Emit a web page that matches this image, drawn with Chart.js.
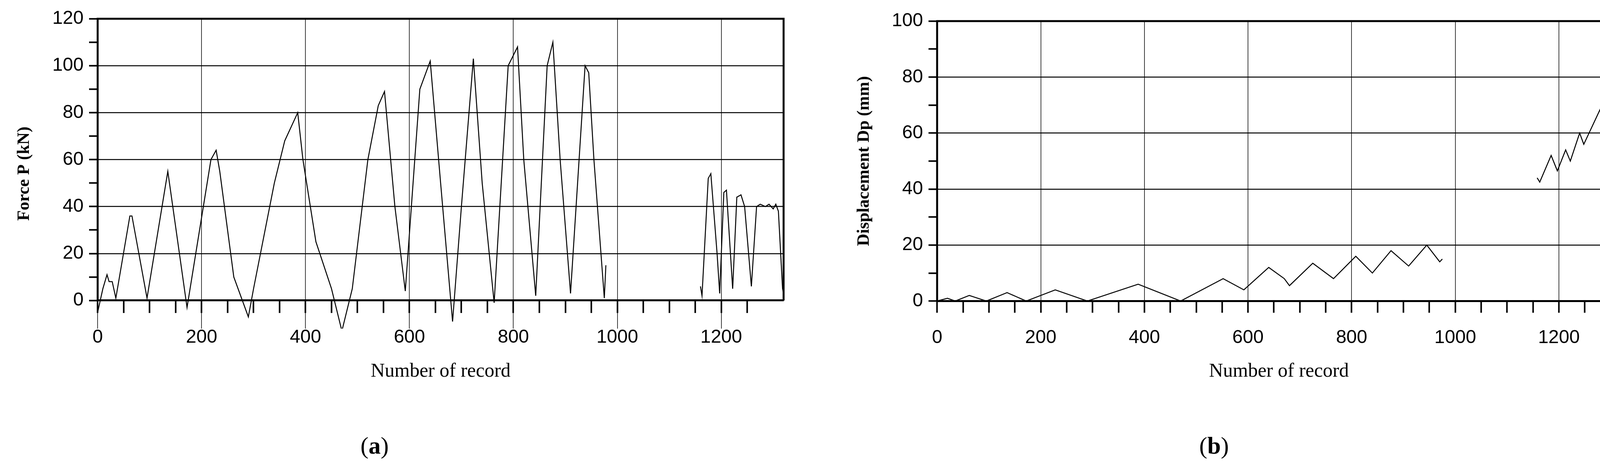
<!DOCTYPE html>
<html>
<head>
<meta charset="utf-8">
<script src="https://cdn.jsdelivr.net/npm/chart.js@4.4.0/dist/chart.umd.min.js"></script>
<style>
  body { margin: 0; background: #fff; width: 4211px; height: 1190px; position: relative; overflow: hidden; }
  canvas { position: absolute; top: 0; }
  .cap { position: absolute; top: 1105px; font-family: "Liberation Serif", serif; font-size: 62px; transform: translateX(-50%); }
  .xt { position: absolute; top: 918px; font-family: "Liberation Serif", serif; font-size: 50px; transform: translateX(-50%); white-space: nowrap; }
</style>
</head>
<body>
<canvas id="force" width="2100" height="1030" style="left:0;width:2100px;height:1030px"></canvas>
<canvas id="disp" width="2061" height="1030" style="left:2150px;width:2061px;height:1030px"></canvas>
<div class="xt" style="left:1128px">Number of record</div>
<div class="xt" style="left:3274px">Number of record</div>
<div class="cap" style="left:959px">(<b>a</b>)</div>
<div class="cap" style="left:3108px">(<b>b</b>)</div>
<script>
// force P, record number vs kN (null = gap in the record)
const forceRecord = [0, 10, 18, 22, 28, 35, 62, 66, 95, 135, 172, 218, 228, 235, 262, 290, 300, 340, 360, 385, 395, 420, 450, 470, 490, 520, 540, 552, 572, 592, 620, 640, 660, 683, 700, 723, 740, 763, 790, 808, 820, 843, 865, 876, 890, 910, 938, 945, 955, 975, 978, 1000, 1160, 1163, 1175, 1180, 1192, 1197, 1205, 1210, 1222, 1230, 1238, 1245, 1258, 1268, 1275, 1285, 1292, 1300, 1305, 1310, 1318, 1321];
const forceValue  = [-5, 5, 11, 8, 8, 1, 36, 36, 1, 55, -3, 60, 64, 55, 10, -7, 5, 50, 68, 80, 60, 25, 5, -13, 5, 60, 83, 89, 40, 4, 90, 102, 50, -9, 40, 103, 50, -1, 100, 108, 60, 2, 100, 110, 60, 3, 100, 97, 60, 1, 15, null, 6, 2, 52, 54, 20, 3, 46, 47, 5, 44, 45, 40, 6, 40, 41, 40, 41, 39, 41, 38, 5, 2];
// displacement Dp, record number vs mm
const dispRecord = [0, 20, 35, 62, 95, 135, 172, 228, 290, 388, 470, 552, 592, 640, 670, 680, 725, 765, 808, 840, 876, 910, 945, 970, 975, 1000, 1158, 1163, 1185, 1197, 1213, 1222, 1240, 1248, 1310, 1320];
const dispValue  = [0, 1, 0, 2, 0, 3, 0, 4, 0, 6, 0, 8, 4, 12, 8, 5.5, 13.5, 8, 16, 10, 18, 12.5, 20, 14, 15, null, 44, 42.5, 52, 46.5, 54, 50, 60, 56, 80.5, 76];

const tickFont = { family: '"Liberation Sans Narrow", "Liberation Sans", sans-serif', size: 48 };

const frame = {
  id: 'frame',
  afterDraw(chart) {
    const { ctx, chartArea: a, scales } = chart;
    const y0 = scales.y.getPixelForValue(0);
    ctx.save();
    ctx.strokeStyle = '#000';
    ctx.lineWidth = 5;
    ctx.beginPath();
    ctx.moveTo(a.left, y0); ctx.lineTo(a.left, a.top); ctx.lineTo(a.right, a.top); ctx.lineTo(a.right, y0);
    ctx.stroke();
    ctx.restore();
  }
};

function makeChart(id, xs, ys, yMin, yMax, yTitle, pad, yWidth, xPos) {
  new Chart(document.getElementById(id), {
    type: 'line',
    data: { datasets: [{ data: xs.map((x, i) => ({ x, y: ys[i] })), borderColor: '#000', borderWidth: 2.5, pointRadius: 0, tension: 0, spanGaps: false }] },
    options: {
      responsive: false, devicePixelRatio: 1, animation: false,
      layout: { padding: pad },
      plugins: { legend: { display: false }, tooltip: { enabled: false } },
      scales: {
        x: {
          type: 'linear', min: 0, max: 1320, position: xPos,
          border: { color: '#000', width: 5 },
          ticks: { stepSize: 50, autoSkip: false, maxRotation: 0, color: '#000', font: tickFont, padding: 36,
                   callback: v => (v % 200 === 0 ? v : '') },
          grid: { color: c => (c.tick && c.tick.value % 200 === 0 ? '#000' : 'rgba(0,0,0,0)'), lineWidth: 1.5, tickColor: '#000', tickWidth: 4, tickLength: 30 },
          afterBuildTicks: s => { s.ticks = s.ticks.filter(t => t.value % 50 === 0); }
        },
        y: {
          min: yMin, max: yMax,
          border: { display: false },
          afterFit: s => { s.width = yWidth; },
          afterBuildTicks: s => { s.ticks = s.ticks.filter(t => t.value >= 0 && t.value % 10 === 0); },
          ticks: { stepSize: 10, autoSkip: false, color: '#000', font: tickFont, padding: 14,
                   callback: v => (v % 20 === 0 ? v : '') },
          grid: { color: c => (c.tick && c.tick.value % 20 === 0 ? '#000' : 'rgba(0,0,0,0)'), lineWidth: 2.5, tickColor: '#000', tickWidth: 4, tickLength: 22 },
          title: { display: true, text: yTitle, color: '#000', font: { family: '"Liberation Serif", serif', size: 44, weight: 'bold' }, padding: 6 }
        }
      }
    },
    plugins: [frame]
  });
}

makeChart('force', forceRecord, forceValue, -12, 120, 'Force P (kN)', { top: 48, right: 94, bottom: 189, left: 30 }, 220, { y: 0 });
makeChart('disp', dispRecord, dispValue, 0, 100, 'Displacement Dp (mm)', { top: 54, right: 61, bottom: 100, left: 30 }, 219, 'bottom');
</script>
</body>
</html>
